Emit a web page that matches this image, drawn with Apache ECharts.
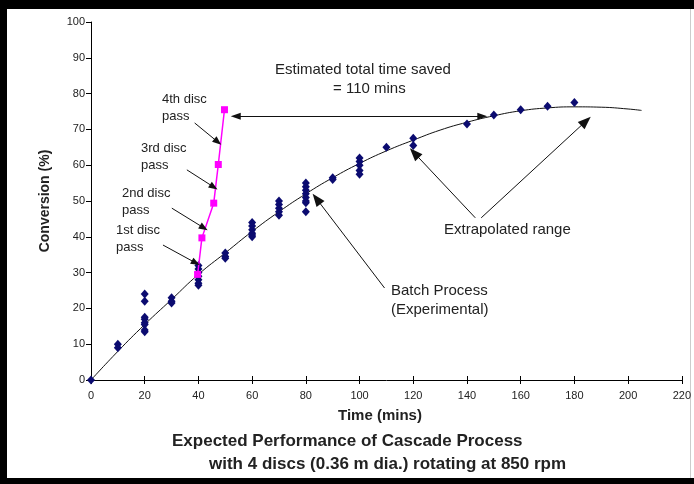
<!DOCTYPE html>
<html>
<head>
<meta charset="utf-8">
<script src="https://cdn.jsdelivr.net/npm/echarts@6/dist/echarts.min.js"></script>
<style>
  html, body { margin: 0; padding: 0; background: #000; }
  #chart { width: 694px; height: 484px; }
</style>
</head>
<body>
<div id="chart"></div>
<script>
// batch process measurements (time in mins, conversion in %)
const batchTime = [0, 10, 10, 20, 20, 20, 20, 20, 20, 20, 20, 30, 30, 30,
  40, 40, 40, 40, 40, 40, 40, 50, 50, 50, 60, 60, 60, 60, 60, 60,
  70, 70, 70, 70, 70, 80, 80, 80, 80, 80, 80, 80, 80, 90, 90,
  100, 100, 100, 100, 100, 110, 120, 120, 140, 150, 160, 170, 180]
const batchConv = [0, 10, 9, 24, 22, 17.5, 17, 16, 15.5, 14, 13.5, 23, 22, 21.5,
  32, 31, 30, 29, 28, 27, 26.5, 35.5, 34.5, 34, 44, 43, 42, 41, 40.5, 40,
  50, 49, 48, 47, 46, 55, 54, 53, 52, 51, 50, 49.5, 47, 56.5, 56,
  62, 61, 60, 58.5, 57.5, 65, 67.5, 65.5, 71.5, 74, 75.5, 76.5, 77.5]

// trendline
const fitTime = [0, 10, 20, 30, 40, 50, 60, 70, 80, 90, 100, 110, 120, 130, 140, 150, 160, 170, 180, 190, 200, 205]
const fitConv = [0, 8, 15.5, 22.5, 29.5, 35.5, 41.5, 47, 52, 56.5, 60.5, 64, 67, 69.8, 72, 73.8, 75.2, 76, 76.3, 76.2, 75.7, 75.3]

// cascade disc passes
const cascadeTime = [39.7, 41.3, 45.7, 47.4, 49.7]
const cascadeConv = [29.5, 39.7, 49.4, 60.2, 75.5]

const xTicks = { min: 0, max: 220, interval: 20 }
const yTicks = { min: 0, max: 100, interval: 10 }

const chart = echarts.init(document.getElementById('chart'))

const font = 'Liberation Sans, Arial, sans-serif'
const zip = (a, b) => a.map((v, i) => [v, b[i]])

// arrows in data coordinates
const arrow = (from, to, size) => [
  { coord: from, symbol: 'none' },
  { coord: to, symbol: 'triangle', symbolSize: size }
]
const smallHead = [7, 9]
const bigHead = [10, 13]

const label = (text, left, top, size, bold) => ({
  type: 'text', left, top,
  style: { text, font: (bold ? 'bold ' : '') + size + 'px ' + font, fill: '#222' }
})

chart.setOption({
  backgroundColor: '#000',
  animation: false,
  grid: { left: 91, right: 11, top: 22, bottom: 104 },
  xAxis: [{
    type: 'value', ...xTicks,
    axisLine: { lineStyle: { color: '#000', width: 1 } },
    axisTick: { length: 4, lineStyle: { color: '#000' } },
    axisLabel: { color: '#222', fontSize: 11, fontFamily: font, margin: 10 },
    splitLine: { show: false }
  }, {
    type: 'value', ...xTicks, position: 'bottom',
    axisLine: { show: false },
    axisTick: { inside: true, length: 4, lineStyle: { color: '#000' } },
    axisLabel: { show: false },
    splitLine: { show: false }
  }],
  yAxis: {
    type: 'value', ...yTicks,
    axisLine: { show: true, lineStyle: { color: '#000', width: 1 } },
    axisTick: { show: true, length: 5, lineStyle: { color: '#000' } },
    axisLabel: { color: '#222', fontSize: 11, fontFamily: font, margin: 6 },
    splitLine: { show: false }
  },
  graphic: [
    { type: 'rect', left: 7, top: 9, shape: { width: 687, height: 469 }, style: { fill: '#fff' }, z: -10 },
    { type: 'rect', left: 690, top: 9, shape: { width: 1, height: 469 }, style: { fill: '#ccc' }, z: -9 },
    label('Estimated total time saved', 275, 62, 15),
    label('= 110 mins', 333, 81, 15),
    label('4th disc', 162, 93, 13), label('pass', 162, 110, 13),
    label('3rd disc', 141, 142, 13), label('pass', 141, 159, 13),
    label('2nd disc', 122, 187, 13), label('pass', 122, 204, 13),
    label('1st disc', 116, 224, 13), label('pass', 116, 241, 13),
    label('Batch Process', 391, 283, 15), label('(Experimental)', 391, 302, 15),
    label('Extrapolated range', 444, 222, 15),
    {
      type: 'text', x: 45, y: 201, rotation: Math.PI / 2,
      style: { text: 'Conversion (%)', font: 'bold 14px ' + font, fill: '#222', align: 'center', verticalAlign: 'middle' }
    },
    label('Time (mins)', 338, 408, 15, true),
    label('Expected Performance of Cascade Process', 172, 433, 17, true),
    label('with 4 discs (0.36 m dia.) rotating at 850 rpm', 209, 456, 17, true)
  ],
  series: [{
    type: 'line',
    data: zip(fitTime, fitConv),
    smooth: true,
    showSymbol: false,
    lineStyle: { color: '#111', width: 1 },
    z: 2,
    markLine: {
      silent: true,
      symbol: ['none', 'triangle'],
      lineStyle: { color: '#111', width: 1, type: 'solid' },
      label: { show: false },
      data: [
        arrow([38.6, 71.8], [47.2, 66.5], smallHead),
        arrow([35.7, 58.7], [45.7, 53.9], smallHead),
        arrow([30.1, 48.0], [42.0, 42.5], smallHead),
        arrow([26.8, 37.7], [39.0, 32.7], smallHead),
        arrow([109.3, 25.7], [84.0, 50.6], bigHead),
        arrow([143.1, 45.3], [120.4, 63.4], bigHead),
        arrow([145.3, 45.3], [184.3, 72.3], bigHead),
        [{ coord: [53.9, 73.7], symbol: 'triangle', symbolSize: [7, 10] },
         { coord: [145.7, 73.7], symbol: 'triangle', symbolSize: [7, 10] }]
      ]
    }
  }, {
    type: 'scatter',
    data: zip(batchTime, batchConv),
    symbol: 'diamond',
    symbolSize: [8, 9],
    itemStyle: { color: '#0b0b70', opacity: 1 },
    z: 3
  }, {
    type: 'line',
    data: zip(cascadeTime, cascadeConv),
    symbol: 'rect',
    symbolSize: 7,
    showAllSymbol: true,
    lineStyle: { color: '#ff00ff', width: 1.5 },
    itemStyle: { color: '#ff00ff' },
    z: 4
  }]
})
</script>
</body>
</html>
